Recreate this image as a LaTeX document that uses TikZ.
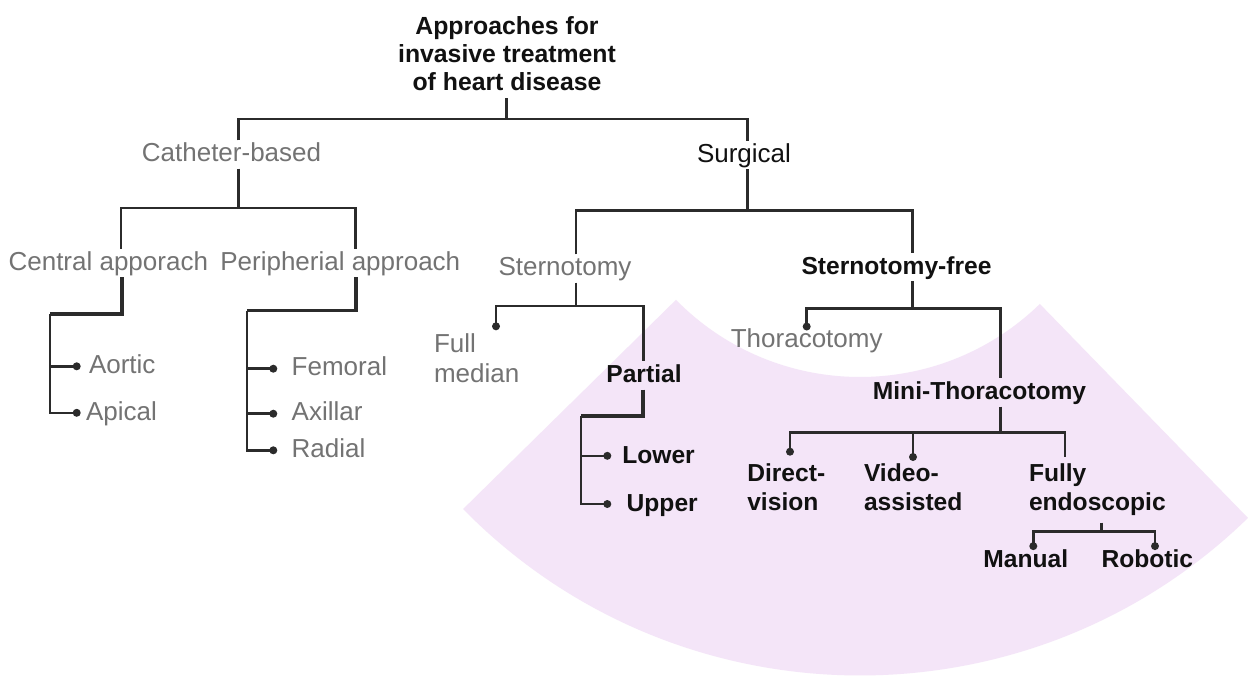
\documentclass[tikz,border=0pt]{standalone}
\usepackage{fontspec}
\setmainfont{Liberation Sans}
\definecolor{linecol}{RGB}{43,43,43}
\definecolor{txtgray}{RGB}{115,115,115}
\definecolor{txtblack}{RGB}{17,17,17}
\definecolor{pinkfill}{RGB}{244,229,248}
\tikzset{
  lbl/.style={inner sep=0pt, outer xsep=0pt, outer ysep=3.5pt, text height=0.72em, text depth=0pt, yshift=-1pt},
  reg/.style={lbl, font=\fontsize{13pt}{15pt}\selectfont, text=txtgray},
  regblack/.style={lbl, font=\fontsize{13pt}{15pt}\selectfont, text=txtblack},
  bld/.style={lbl, font=\fontsize{12.3pt}{14.3pt}\selectfont\bfseries, text=txtblack},
  regml/.style={inner sep=0pt, outer xsep=0pt, outer ysep=3.5pt, align=left, font=\fontsize{13pt}{15pt}\selectfont, text=txtgray},
  bldml/.style={inner sep=0pt, outer xsep=0pt, outer ysep=3.5pt, align=left, font=\fontsize{12.3pt}{14.3pt}\selectfont\bfseries, text=txtblack},
  conn/.style={draw=linecol, line width=1.3pt, line join=miter},
  connthick/.style={draw=linecol, line width=1.9pt, line join=miter},
}
\newcommand{\leafdot}[1]{\fill[linecol] (#1) circle[radius=2pt];}
\begin{document}
\begin{tikzpicture}[x=0.5pt,y=-0.5pt]
\useasboundingbox (0,0) rectangle (1254,677);
\fill[white] (0,0) rectangle (1254,677);
% background sector
\fill[pinkfill] (860,119) ++(135.5:258) arc[start angle=135.5, end angle=45.8, radius=258]
  -- ++(45.8:298.5) arc[start angle=45.8, end angle=135.5, radius=556.5] -- cycle;

% nodes
\node[bldml, align=center, anchor=north, font=\fontsize{12.4pt}{14.15pt}\selectfont\bfseries] (title) at (507,9.3) {Approaches for\\invasive treatment\\of heart disease};
\node[reg] (cath) at (231.5,152.5) {Catheter-based};
\node[regblack] (surg) at (744,153) {Surgical};
\node[reg] (central) at (108.3,261) {Central apporach};
\node[reg] (periph) at (340.3,261) {Peripherial approach};
\node[reg] (stern) at (565,266.5) {Sternotomy};
\node[bld] (sfree) at (896.5,265) {Sternotomy-free};
\node[reg, anchor=west] (aortic) at (89,364.3) {Aortic};
\node[reg, anchor=west] (apical) at (86,410.8) {Apical};
\node[reg, anchor=west] (femoral) at (291.7,366.7) {Femoral};
\node[reg, anchor=west] (axillar) at (291.7,411.7) {Axillar};
\node[reg, anchor=west] (radial) at (291.7,448.3) {Radial};
\node[regml, anchor=north west] (fullmed) at (434,326.3) {Full\\median};
\node[bld] (partial) at (644,373.5) {Partial};
\node[bld, anchor=west] (lower) at (622.3,453.8) {Lower};
\node[bld, anchor=west] (upper) at (626.7,502) {Upper};
\node[reg] (thor) at (806.7,338.7) {Thoracotomy};
\node[bld] (mini) at (979.5,390.5) {Mini-Thoracotomy};
\node[bldml, anchor=north west] (direct) at (747.3,457) {Direct-\\vision};
\node[bldml, anchor=north west] (video) at (864,457) {Video-\\assisted};
\node[bldml, anchor=north west] (fully) at (1029,457) {Fully\\endoscopic};
\node[bld] (manual) at (1025.8,558.3) {Manual};
\node[bld] (robotic) at (1147.3,558.3) {Robotic};
\coordinate (directdot) at (790,451.7);

% root
\draw[conn] (title.south -| 506.7,0) -- (506.7,119);
\draw[conn] (cath.north -| 238.3,0) -- (238.3,119) -- (747.7,119) -- (surg.north -| 747.7,0);
% catheter-based
\draw[conn] (cath.south -| 238.3,0) -- (238.3,208);
\draw[conn] (central.north -| 121,0) -- (121,208) -- (355.7,208) -- (periph.north -| 355.7,0);
% central
\draw[connthick] (central.south -| 122,0) -- (122,314) -- (50,314);
\draw[conn] (50,314) -- (apical.west -| 50,0) -- (apical.west -| 76.7,0);
\draw[conn] (aortic.west -| 50,0) -- (aortic.west -| 76.7,0);
\leafdot{aortic.west -| 76.7,0}
\leafdot{apical.west -| 76.7,0}
% peripheral
\draw[connthick] (periph.south -| 355.7,0) -- (355.7,310.5) -- (247,310.5);
\draw[conn] (247,310.5) -- (radial.west -| 247,0) -- (radial.west -| 273.3,0);
\draw[conn] (femoral.west -| 247,0) -- (femoral.west -| 273.3,0);
\draw[conn] (axillar.west -| 247,0) -- (axillar.west -| 273.3,0);
\leafdot{femoral.west -| 273.3,0}
\leafdot{axillar.west -| 273.3,0}
\leafdot{radial.west -| 273.3,0}
% surgical
\draw[conn] (surg.south -| 747.7,0) -- (747.7,210.5);
\draw[conn] (stern.north -| 576,0) -- (576,210.5) -- (912.7,210.5) -- (sfree.north -| 912.7,0);
% sternotomy
\draw[conn] (stern.south -| 576,0) -- (576,306);
\draw[conn] (fullmed.north -| 496,0) -- (496,306) -- (643.3,306) -- (partial.north -| 643.3,0);
\leafdot{fullmed.north -| 496,0}
% partial
\draw[connthick] (partial.south -| 643.3,0) -- (643.3,416) -- (581,416);
\draw[conn] (581,416) -- (upper.west -| 581,0) -- (upper.west -| 607.3,0);
\draw[conn] (lower.west -| 581,0) -- (lower.west -| 607.3,0);
\leafdot{lower.west -| 607.3,0}
\leafdot{upper.west -| 607.3,0}
% sternotomy-free
\draw[conn] (sfree.south -| 912.7,0) -- (912.7,308.5);
\draw[conn] (thor.north) -- (thor.north |- 0,308.5) -- (1000.7,308.5) -- (mini.north -| 1000.7,0);
\leafdot{thor.north}
% mini-thoracotomy
\draw[conn] (mini.south -| 1000.7,0) -- (1000.7,432.7);
\draw[conn] (directdot) -- (790,432.7) -- (1065,432.7) -- (fully.north -| 1065,0);
\draw[conn] (video.north -| 913,0) -- (913,432.7);
\leafdot{directdot}
\leafdot{video.north -| 913,0}
% fully endoscopic
\draw[conn] (fully.south -| 1101.7,0) -- (1101.7,531.7);
\draw[conn] (manual.north -| 1033.3,0) -- (1033.3,531.7) -- (1155,531.7) -- (robotic.north -| 1155,0);
\leafdot{manual.north -| 1033.3,0}
\leafdot{robotic.north -| 1155,0}
\end{tikzpicture}
\end{document}
